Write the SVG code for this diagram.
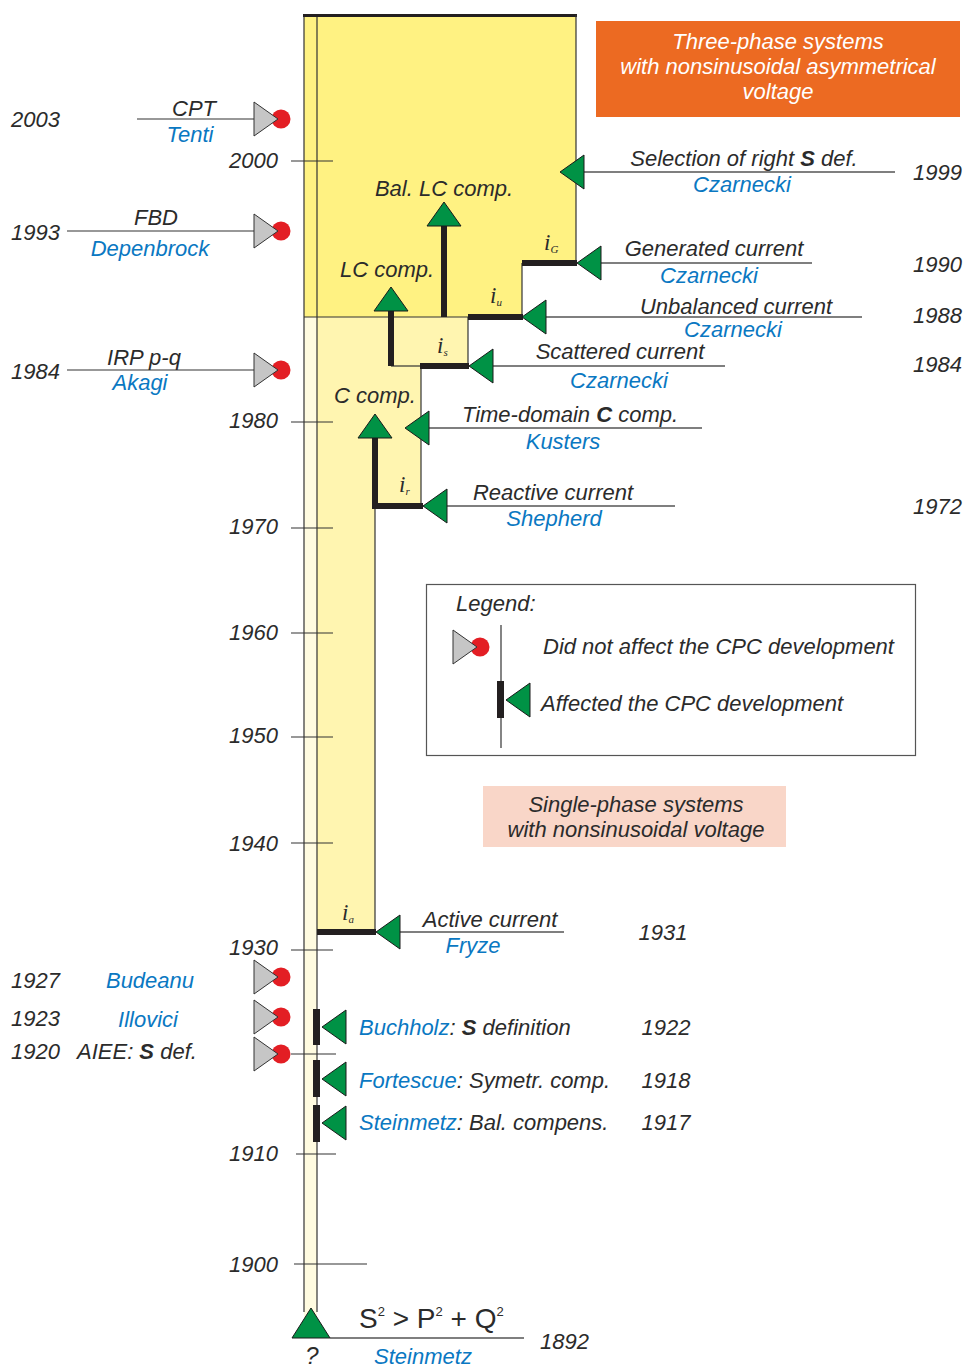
<svg xmlns="http://www.w3.org/2000/svg" width="964" height="1367" viewBox="0 0 964 1367">
<style>
text{font-family:"Liberation Sans",Arial,sans-serif;font-style:italic;font-size:22px;fill:#2b2b2b}
.b{fill:#0a78c2}
.w{fill:#ffffff}
.c{text-anchor:middle}
.e{text-anchor:end}
.bold{font-weight:bold}
.iv{font-family:"Liberation Serif","Times New Roman",serif;font-size:23px}
.sub{font-size:11px}
.thin{stroke:#333;stroke-width:1.2;fill:none}
.conn{stroke:#555;stroke-width:1.4;fill:none}
.thick{stroke:#231f20;stroke-width:6;fill:none}
.gt{fill:#009245;stroke:#1a1a1a;stroke-width:1}
.gr{fill:#c6c6c6;stroke:#333;stroke-width:1}
.rd{fill:#e31e24}
.bar{fill:#231f20}
</style>
<defs>
<g id="nd"><circle cx="27" cy="0" r="9.5" class="rd"/><polygon points="0,-17 0,17 24,0" class="gr"/></g>
<g id="gl"><polygon points="0,0 24,-17 24,17" class="gt"/></g>
<g id="gu"><polygon points="0,0 -17,24 17,24" class="gt"/></g>
</defs>

<g id="background">
<polygon points="304,317 317,317 317,1338 304,1338" fill="#fffbe0"/>
<polygon points="304,15 576,15 576,263 522,263 522,317 304,317" fill="#fff282"/>
<polygon points="317,317 468,317 468,366 421,366 421,506 375,506 375,932 317,932" fill="#fff5b0"/>
</g>

<g id="boxes">
<rect x="596" y="21" width="364" height="96" fill="#ec6a22"/>
<text x="778" y="49" class="w c">Three-phase systems</text>
<text x="778" y="74" class="w c">with nonsinusoidal asymmetrical</text>
<text x="778" y="99" class="w c">voltage</text>
<rect x="483" y="786" width="303" height="61" fill="#f9d6c8"/>
<text x="636" y="812" class="c">Single-phase systems</text>
<text x="636" y="837" class="c">with nonsinusoidal voltage</text>
</g>

<g id="timeline">
<line x1="304" y1="15" x2="304" y2="1312" class="thin"/>
<line x1="317" y1="15" x2="317" y2="1312" class="thin"/>
<line x1="303" y1="15.5" x2="577" y2="15.5" stroke="#231f20" stroke-width="3"/>
<line x1="576" y1="15" x2="576" y2="263" class="thin"/>
<line x1="522" y1="263" x2="522" y2="317" class="thin"/>
<line x1="304" y1="317" x2="468" y2="317" class="thin"/>
<line x1="468" y1="317" x2="468" y2="366" class="thin"/>
<line x1="391" y1="366" x2="421" y2="366" class="thin"/>
<line x1="421" y1="366" x2="421" y2="506" class="thin"/>
<line x1="375" y1="506" x2="375" y2="932" class="thin"/>
<line x1="291" y1="161" x2="333" y2="161" class="thin"/>
<line x1="291" y1="422" x2="333" y2="422" class="thin"/>
<line x1="291" y1="528" x2="333" y2="528" class="thin"/>
<line x1="291" y1="633" x2="333" y2="633" class="thin"/>
<line x1="291" y1="737" x2="333" y2="737" class="thin"/>
<line x1="291" y1="843" x2="333" y2="843" class="thin"/>
<line x1="291" y1="950" x2="333" y2="950" class="thin"/>
<line x1="291" y1="1054" x2="336" y2="1054" class="thin"/>
<line x1="296" y1="1154" x2="336" y2="1154" class="thin"/>
<line x1="294" y1="1264" x2="367" y2="1264" class="thin"/>
<text x="278" y="168" class="e">2000</text>
<text x="278" y="428" class="e">1980</text>
<text x="278" y="534" class="e">1970</text>
<text x="278" y="640" class="e">1960</text>
<text x="278" y="743" class="e">1950</text>
<text x="278" y="851" class="e">1940</text>
<text x="278" y="955" class="e">1930</text>
<text x="278" y="1161" class="e">1910</text>
<text x="278" y="1272" class="e">1900</text>
</g>

<g id="currents">
<line x1="522" y1="263" x2="577" y2="263" class="thick"/>
<line x1="468" y1="317" x2="523" y2="317" class="thick"/>
<line x1="420" y1="366" x2="469" y2="366" class="thick"/>
<line x1="372" y1="506" x2="423" y2="506" class="thick"/>
<line x1="317" y1="932" x2="376" y2="932" class="thick"/>
<polyline points="391,308 391,366" class="thick"/>
<polyline points="444,224 444,317" class="thick"/>
<polyline points="375,436 375,506" class="thick"/>
<use href="#gu" x="391" y="287"/>
<use href="#gu" x="444" y="202"/>
<use href="#gu" x="375" y="414"/>
<text x="444" y="196" class="c">Bal. LC comp.</text>
<text x="387" y="277" class="c">LC comp.</text>
<text x="375" y="403" class="c">C comp.</text>
<text x="544" y="250" class="iv">i<tspan class="sub" dy="3">G</tspan></text>
<text x="490" y="303" class="iv">i<tspan class="sub" dy="3">u</tspan></text>
<text x="437" y="353" class="iv">i<tspan class="sub" dy="3">s</tspan></text>
<text x="399" y="492" class="iv">i<tspan class="sub" dy="3">r</tspan></text>
<text x="342" y="920" class="iv">i<tspan class="sub" dy="3">a</tspan></text>
</g>

<g id="connectors">
<line x1="584" y1="172" x2="895" y2="172" class="conn"/>
<line x1="600" y1="263" x2="812" y2="263" class="conn"/>
<line x1="545" y1="317" x2="862" y2="317" class="conn"/>
<line x1="492" y1="366" x2="725" y2="366" class="conn"/>
<line x1="428" y1="428" x2="702" y2="428" class="conn"/>
<line x1="446" y1="506" x2="675" y2="506" class="conn"/>
<line x1="399" y1="932" x2="564" y2="932" class="conn"/>
<line x1="137" y1="119" x2="254" y2="119" class="thin"/>
<line x1="67" y1="231" x2="254" y2="231" class="thin"/>
<line x1="67" y1="370" x2="254" y2="370" class="thin"/>
<line x1="330" y1="1338" x2="524" y2="1338" class="conn"/>
</g>

<g id="n1999"><use href="#gl" x="560" y="172"/>
<text x="744" y="166" class="c">Selection of right <tspan class="bold">S</tspan> def.</text>
<text x="742" y="192" class="b c">Czarnecki</text>
<text x="962" y="180" class="e">1999</text></g>

<g id="n1990"><use href="#gl" x="577" y="263"/>
<text x="714" y="256" class="c">Generated current</text>
<text x="709" y="283" class="b c">Czarnecki</text>
<text x="962" y="272" class="e">1990</text></g>

<g id="n1988"><use href="#gl" x="522" y="317"/>
<text x="736" y="314" class="c">Unbalanced current</text>
<text x="733" y="337" class="b c">Czarnecki</text>
<text x="962" y="323" class="e">1988</text></g>

<g id="n1984s"><use href="#gl" x="469" y="366"/>
<text x="620" y="359" class="c">Scattered current</text>
<text x="619" y="388" class="b c">Czarnecki</text>
<text x="962" y="372" class="e">1984</text></g>

<g id="nKusters"><use href="#gl" x="405" y="428"/>
<text x="570" y="422" class="c">Time-domain <tspan class="bold">C</tspan> comp.</text>
<text x="563" y="449" class="b c">Kusters</text></g>

<g id="n1972"><use href="#gl" x="423" y="506"/>
<text x="553" y="500" class="c">Reactive current</text>
<text x="554" y="526" class="b c">Shepherd</text>
<text x="962" y="514" class="e">1972</text></g>

<g id="n1931"><use href="#gl" x="376" y="932"/>
<text x="490" y="927" class="c">Active current</text>
<text x="473" y="953" class="b c">Fryze</text>
<text x="663" y="940" class="c">1931</text></g>

<g id="n1922"><rect x="313" y="1009" width="7" height="36" class="bar"/><use href="#gl" x="322" y="1027"/>
<text x="359" y="1035"><tspan class="b">Buchholz</tspan>: <tspan class="bold">S</tspan> definition</text>
<text x="666" y="1035" class="c">1922</text></g>

<g id="n1918"><rect x="313" y="1060" width="7" height="37" class="bar"/><use href="#gl" x="322" y="1079"/>
<text x="359" y="1088"><tspan class="b">Fortescue</tspan>: Symetr. comp.</text>
<text x="666" y="1088" class="c">1918</text></g>

<g id="n1917"><rect x="313" y="1105" width="7" height="37" class="bar"/><use href="#gl" x="322" y="1123"/>
<text x="359" y="1130"><tspan class="b">Steinmetz</tspan>: Bal. compens.</text>
<text x="666" y="1130" class="c">1917</text></g>

<g id="n2003"><use href="#nd" x="254" y="119"/>
<text x="194" y="116" class="c">CPT</text>
<text x="190" y="142" class="b c">Tenti</text>
<text x="11" y="127">2003</text></g>

<g id="n1993"><use href="#nd" x="254" y="231"/>
<text x="156" y="225" class="c">FBD</text>
<text x="150" y="256" class="b c">Depenbrock</text>
<text x="11" y="240">1993</text></g>

<g id="n1984"><use href="#nd" x="254" y="370"/>
<text x="144" y="365" class="c">IRP p-q</text>
<text x="140" y="390" class="b c">Akagi</text>
<text x="11" y="379">1984</text></g>

<g id="n1927"><use href="#nd" x="254" y="977"/>
<text x="11" y="988">1927</text>
<text x="150" y="988" class="b c">Budeanu</text></g>

<g id="n1923"><use href="#nd" x="254" y="1017"/>
<text x="11" y="1026">1923</text>
<text x="148" y="1027" class="b c">Illovici</text></g>

<g id="n1920"><use href="#nd" x="254" y="1054"/>
<text x="11" y="1059">1920</text>
<text x="77" y="1059">AIEE: <tspan class="bold">S</tspan> def.</text></g>

<g id="n1892"><polygon points="311,1308 292,1338 330,1338" class="gt"/>
<text x="359" y="1328" style="font-style:normal;font-size:28px">S<tspan style="font-size:13px" dy="-12">2</tspan><tspan dy="12"> &gt; P</tspan><tspan style="font-size:13px" dy="-12">2</tspan><tspan dy="12"> + Q</tspan><tspan style="font-size:13px" dy="-12">2</tspan></text>
<text x="312" y="1364" class="c" style="font-size:24px">?</text>
<text x="423" y="1364" class="b c">Steinmetz</text>
<text x="540" y="1349">1892</text></g>

<g id="legend">
<rect x="426.5" y="584.5" width="489" height="171" fill="none" stroke="#555" stroke-width="1.2"/>
<text x="456" y="611">Legend:</text>
<line x1="501" y1="625" x2="501" y2="748" class="thin"/>
<use href="#nd" x="453" y="647"/>
<text x="543" y="654">Did not affect the CPC development</text>
<rect x="497" y="681" width="7" height="37" class="bar"/>
<use href="#gl" x="506" y="700"/>
<text x="541" y="711">Affected the CPC development</text>
</g>
</svg>
